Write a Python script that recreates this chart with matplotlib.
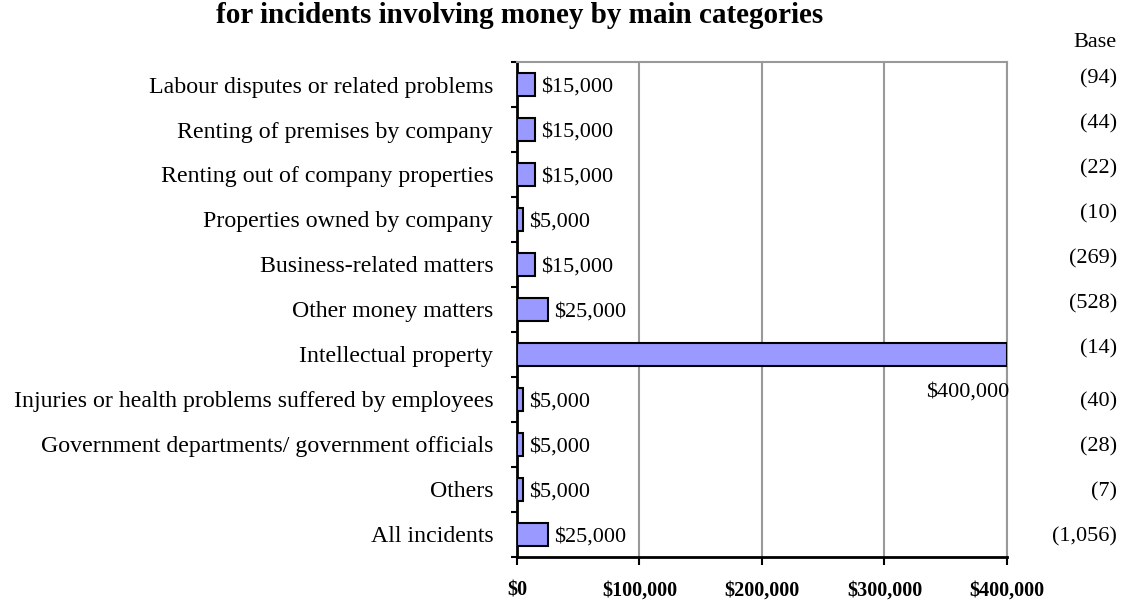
import matplotlib
matplotlib.use("Agg")
import matplotlib.pyplot as plt
import numpy as np

categories = [
    "Labour disputes or related problems",
    "Renting of premises by company",
    "Renting out of company properties",
    "Properties owned by company",
    "Business-related matters",
    "Other money matters",
    "Intellectual property",
    "Injuries or health problems suffered by employees",
    "Government departments/ government officials",
    "Others",
    "All incidents",
]
values = [15000, 15000, 15000, 5000, 15000, 25000, 400000, 5000, 5000, 5000, 25000]
bases = ["(94)", "(44)", "(22)", "(10)", "(269)", "(528)", "(14)", "(40)", "(28)", "(7)", "(1,056)"]
xticks = [0, 100000, 200000, 300000, 400000]
title = "for incidents involving money by main categories"

plt.rcParams["font.family"] = ["Liberation Serif", "DejaVu Serif"]

fig = plt.figure(figsize=(11.3, 6.02), dpi=100)
ax = fig.add_axes([0.4575, 0.0748, 0.4336, 0.8222])

n = len(categories)
y = np.arange(n)
ax.barh(y, values, height=0.5, color="#9999FF", edgecolor="black", linewidth=1.5, zorder=3)
ax.set_xlim(0, 400000)
ax.set_ylim(n - 0.5, -0.5)

ax.set_xticks(xticks)
ax.set_xticklabels(["${:,.0f}".format(v) for v in xticks], fontweight="bold", fontsize=14.5)
ax.xaxis.grid(True, color="#999999", linewidth=1.5, zorder=0)
ax.tick_params(axis="x", direction="out", length=6, width=1.5, pad=11, colors="black")

ax.set_yticks(y)
ax.set_yticklabels(categories, fontsize=17.2)
ax.tick_params(axis="y", which="major", length=0, pad=17)
ax.set_yticks(np.arange(n + 1) - 0.5, minor=True)
ax.tick_params(axis="y", which="minor", direction="out", length=4, width=1.5)

for s in ["top", "right"]:
    ax.spines[s].set_color("#999999")
    ax.spines[s].set_linewidth(1.5)
for s in ["left", "bottom"]:
    ax.spines[s].set_color("black")
    ax.spines[s].set_linewidth(2)

for i, v in enumerate(values):
    lab = "${:,.0f}".format(v)
    if v >= 300000:
        ax.text(v + 2000, i + 0.78, lab, ha="right", va="center_baseline", fontsize=16, zorder=4)
    else:
        ax.text(v + 5000, i, lab, ha="left", va="center_baseline", fontsize=16, zorder=4)

# base column
for i, b in enumerate(bases):
    yy = i - 0.17 if i < 7 else i
    ax.annotate(b, xy=(1.0, yy), xycoords=("axes fraction", "data"),
                xytext=(110, 0), textcoords="offset pixels", ha="right", va="center_baseline", fontsize=16)
fig.text(0.988, 0.933, "Base", ha="right", va="center_baseline", fontsize=16)

fig.text(0.46, 0.975, title, ha="center", va="center", fontsize=21, fontweight="bold")

fig.savefig("out.png", dpi=100)
